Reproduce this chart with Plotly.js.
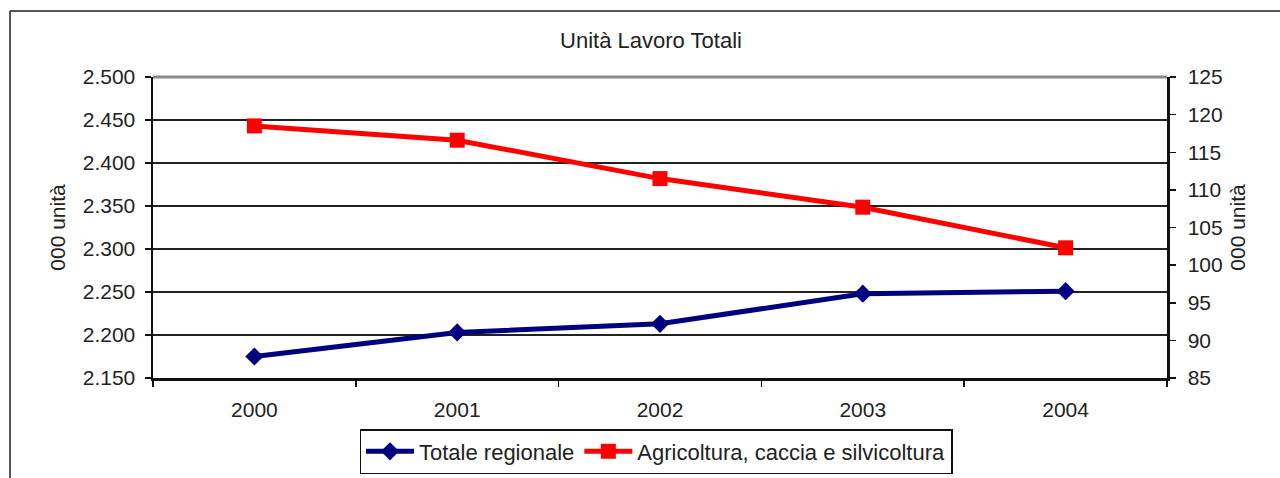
<!DOCTYPE html>
<html>
<head>
<meta charset="utf-8">
<script src="https://cdn.plot.ly/plotly-3.0.1.min.js"></script>
<style>
  html, body { margin: 0; padding: 0; background: #fff; }
  #chart { width: 1280px; height: 478px; }
</style>
</head>
<body>
<div id="chart"></div>
<script>
// Data
const years = ['2000', '2001', '2002', '2003', '2004'];
const totaleRegionale = [2175, 2203, 2213, 2248, 2251];          // left axis (000 unità)
const agricoltura = [118.5, 116.6, 111.5, 107.7, 102.3];         // right axis (000 unità)
const seriesNames = ['Totale regionale', 'Agricoltura, caccia e silvicoltura'];
const chartTitle = 'Unità Lavoro Totali';
const axisTitle = '000 unità';

const FONT = 'Liberation Sans, Arial, sans-serif';
const TXT = '#222222';
const FS = 21;

const traces = [
  {
    x: years, y: totaleRegionale, name: seriesNames[0],
    type: 'scatter', mode: 'lines+markers', yaxis: 'y',
    line: { color: '#000080', width: 5 },
    marker: { symbol: 'diamond', size: 14, color: '#000080' }
  },
  {
    x: years, y: agricoltura, name: seriesNames[1],
    type: 'scatter', mode: 'lines+markers', yaxis: 'y2',
    line: { color: '#FF0000', width: 5 },
    marker: { symbol: 'square', size: 15, color: '#FF0000' }
  }
];

// paper-coordinate helpers for the outer frame (plot area 153..1167 x, 77..378 y)
const px = v => (v - 153) / 1014;
const py = v => (378 - v) / 301;

const layout = {
  width: 1280, height: 478,
  margin: { l: 153, r: 113, t: 77, b: 100, autoexpand: false },
  paper_bgcolor: '#ffffff', plot_bgcolor: '#ffffff',
  separators: ',.',
  font: { family: FONT, color: TXT, size: FS },
  showlegend: true,
  title: {
    text: chartTitle, font: { family: FONT, size: 22, color: TXT },
    xref: 'container', x: 651 / 1280, xanchor: 'center',
    yref: 'container', y: 1 - 40 / 478, yanchor: 'middle'
  },
  xaxis: {
    type: 'category', range: [-0.5, 4.5], automargin: false,
    showline: true, linecolor: '#111', linewidth: 3,
    showgrid: false, zeroline: false,
    ticks: 'outside', ticklen: 6, tickcolor: '#111', tickwidth: 1.5,
    tickson: 'boundaries', ticklabelstandoff: 11,
    tickfont: { family: FONT, size: FS, color: TXT }
  },
  yaxis: {
    range: [2150, 2500], dtick: 50, tick0: 2150, tickformat: ',d', automargin: false,
    showline: true, linecolor: '#111', linewidth: 2.5,
    showgrid: true, gridcolor: '#222', gridwidth: 1.2, zeroline: false,
    ticks: 'outside', ticklen: 6, tickcolor: '#111', tickwidth: 1.5,
    ticklabelstandoff: 5,
    tickfont: { family: FONT, size: FS, color: TXT },
    title: { text: axisTitle, font: { family: FONT, size: FS, color: TXT }, standoff: 12 }
  },
  yaxis2: {
    overlaying: 'y', side: 'right', automargin: false,
    range: [85, 125], dtick: 5, tick0: 85,
    showline: true, linecolor: '#111', linewidth: 2.5,
    showgrid: false, zeroline: false,
    ticks: 'outside', ticklen: 6, tickcolor: '#111', tickwidth: 1.5,
    ticklabelstandoff: 8,
    tickfont: { family: FONT, size: FS, color: TXT },
    title: { text: axisTitle, font: { family: FONT, size: FS, color: TXT }, standoff: 9 }
  },
  legend: {
    orientation: 'h', xref: 'container', x: 656 / 1280, xanchor: 'center',
    yref: 'container', y: 1 - 429 / 478, yanchor: 'top',
    bordercolor: '#111', borderwidth: 1.5, bgcolor: '#fff',
    font: { family: FONT, size: 22, color: TXT },
    itemwidth: 48, tracegroupgap: 0
  },
  shapes: [
    // gray plot-area top border
    { type: 'line', xref: 'paper', yref: 'paper', x0: 0, x1: 1, y0: 1, y1: 1,
      line: { color: '#888888', width: 3 } },
    // outer chart frame (left and top edges)
    { type: 'line', xref: 'paper', yref: 'paper', x0: px(10), x1: px(10), y0: py(11), y1: py(500),
      line: { color: '#222', width: 1.5 } },
    { type: 'line', xref: 'paper', yref: 'paper', x0: px(10), x1: px(1290), y0: py(11), y1: py(11),
      line: { color: '#222', width: 1.5 } }
  ]
};

Plotly.newPlot('chart', traces, layout, { displayModeBar: false, staticPlot: true });
</script>
</body>
</html>
